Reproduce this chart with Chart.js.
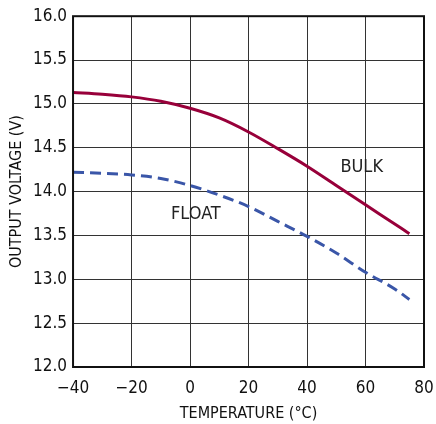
<!DOCTYPE html>
<html>
<head>
<meta charset="utf-8">
<script src="https://cdn.jsdelivr.net/npm/chart.js@4/dist/chart.umd.min.js"></script>
<style>
  html, body { margin: 0; padding: 0; background: #fff; }
  #wrap { position: relative; width: 436px; height: 424px; }
</style>
</head>
<body>
<div id="wrap"><canvas id="chart" width="436" height="424"></canvas></div>
<script>
// temperature (°C) vs output voltage (V)
const tempBulk = [-40, -30, -20, -10, 0, 10, 20, 30, 40, 50, 60, 70, 75];
const bulkV = [15.13, 15.11, 15.08, 15.03, 14.95, 14.84, 14.68, 14.49, 14.29, 14.07, 13.85, 13.63, 13.52];
const tempFloat = [-40, -30, -20, -10, 0, 10, 20, 30, 40, 50, 60, 70, 75];
const floatV = [14.22, 14.21, 14.19, 14.15, 14.07, 13.96, 13.83, 13.66, 13.49, 13.30, 13.08, 12.89, 12.77];
const xTicks = [-40, -20, 0, 20, 40, 60, 80];
const yTicks = [12, 12.5, 13, 13.5, 14, 14.5, 15, 15.5, 16];
const labels = [
  { text: "BULK", x: 58.7, y: 14.28 },
  { text: "FLOAT", x: 2.0, y: 13.74 }
];

const FONT = "'Liberation Sans Narrow', 'DejaVu Sans Condensed', Arial, sans-serif";

const toPts = (xs, ys) => xs.map((x, i) => ({ x: x, y: ys[i] }));

const textPlugin = {
  id: "curveLabels",
  afterDatasetsDraw(chart) {
    const ctx = chart.ctx;
    const xs = chart.scales.x, ys = chart.scales.y;
    ctx.save();
    ctx.fillStyle = "#222";
    ctx.font = "18px " + FONT;
    ctx.textAlign = "center";
    ctx.textBaseline = "middle";
    for (const l of labels) {
      ctx.fillText(l.text, xs.getPixelForValue(l.x), ys.getPixelForValue(l.y));
    }
    ctx.restore();
  }
};

const borderPlugin = {
  id: "frame",
  afterDraw(chart) {
    const a = chart.chartArea, ctx = chart.ctx;
    ctx.save();
    ctx.strokeStyle = "#111";
    ctx.lineWidth = 2;
    ctx.strokeRect(a.left, a.top, a.right - a.left, a.bottom - a.top);
    ctx.restore();
  }
};

new Chart("chart", {
  type: "line",
  data: {
    datasets: [{
      data: toPts(tempBulk, bulkV),
      borderColor: "#98003a",
      borderWidth: 3,
      pointRadius: 0,
      fill: false,
      cubicInterpolationMode: "monotone"
    }, {
      data: toPts(tempFloat, floatV),
      borderColor: "#3a56a8",
      borderWidth: 3,
      borderDash: [11, 6],
      pointRadius: 0,
      fill: false,
      cubicInterpolationMode: "monotone"
    }]
  },
  options: {
    responsive: false,
    animation: false,
    layout: { padding: { left: 9, right: 0, top: 2, bottom: 0 } },
    plugins: { legend: { display: false }, tooltip: { enabled: false } },
    scales: {
      x: {
        type: "linear",
        min: -40, max: 80,
        afterBuildTicks: (s) => { s.ticks = xTicks.map(v => ({ value: v })); },
        afterFit: (s) => { s.paddingRight = 12; },
        grid: { color: "#333", lineWidth: 1, drawTicks: false },
        border: { display: false },
        ticks: {
          color: "#111", padding: 13,
          font: { family: FONT, size: 17, lineHeight: 1.0 },
          callback: (v) => v < 0 ? "\u2212" + Math.abs(v) : String(v)
        },
        title: {
          display: true, text: "TEMPERATURE (°C)", color: "#111",
          font: { family: FONT, size: 16, lineHeight: 1.0 }, padding: { top: -4, bottom: 2 }
        }
      },
      y: {
        min: 12, max: 16,
        afterBuildTicks: (s) => { s.ticks = yTicks.map(v => ({ value: v })); },
        grid: { color: "#333", lineWidth: 1, drawTicks: false },
        border: { display: false },
        ticks: {
          color: "#111", padding: 6,
          font: { family: FONT, size: 17 },
          callback: (v) => v.toFixed(1)
        },
        title: {
          display: true, text: "OUTPUT VOLTAGE (V)", color: "#111",
          font: { family: FONT, size: 16, lineHeight: 1.0 }, padding: { top: 0, bottom: 2 }
        }
      }
    }
  },
  plugins: [textPlugin, borderPlugin]
});
</script>
</body>
</html>
